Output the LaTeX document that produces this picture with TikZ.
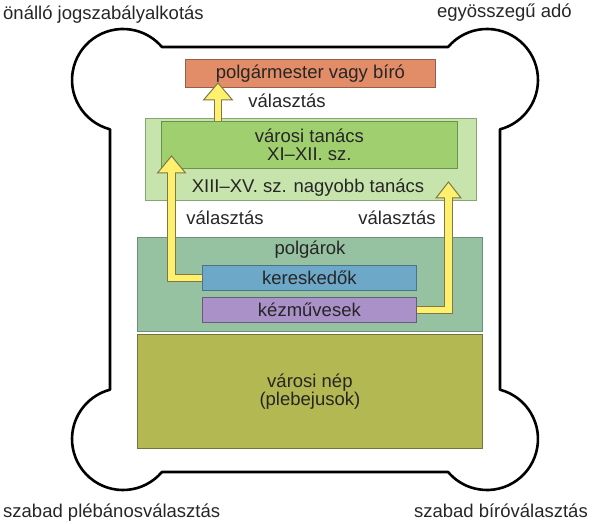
\documentclass[tikz,border=0pt]{standalone}
\usepackage{fontspec}
\setmainfont{Liberation Sans}
\definecolor{cOr}{RGB}{226,141,104}
\definecolor{cOrB}{RGB}{150,95,75}
\definecolor{cLg}{RGB}{199,228,172}
\definecolor{cLgB}{RGB}{135,165,115}
\definecolor{cGr}{RGB}{160,207,112}
\definecolor{cGrB}{RGB}{105,145,80}
\definecolor{cPo}{RGB}{150,194,162}
\definecolor{cPoB}{RGB}{105,145,120}
\definecolor{cKe}{RGB}{110,168,200}
\definecolor{cKeB}{RGB}{75,115,140}
\definecolor{cKz}{RGB}{170,145,200}
\definecolor{cKzB}{RGB}{105,90,130}
\definecolor{cOl}{RGB}{180,184,82}
\definecolor{cOlB}{RGB}{115,115,60}
\definecolor{cAr}{RGB}{255,240,110}
\definecolor{cArB}{RGB}{125,120,75}
\begin{document}
\begin{tikzpicture}[x=1pt,y=-1pt,
  lbl/.style={font=\fontsize{18.5}{18.5}\selectfont, text=black!85, inner sep=0pt, align=center},
  box/.style={line width=0.8pt, inner sep=0pt, anchor=north west, font=\fontsize{18.5}{18.5}\selectfont, text=black!85, align=center},
  aout/.style={draw=cArB, line width=8.5pt, line join=miter},
  ain/.style={draw=cAr, line width=6.5pt, line join=miter},
  ahead/.style={fill=cAr, draw=cArB, line width=1pt, line join=miter}]
\useasboundingbox (0,0) rectangle (592,524);
% outline
\draw[line width=2.6pt, line join=round]
  (110,129.3) arc[start angle=104.8, end angle=319.7, radius=51]
  -- (448.1,47) arc[start angle=220.3, end angle=435.2, radius=51]
  -- (500,389.7) arc[start angle=-75.2, end angle=139.7, radius=51]
  -- (161.9,472) arc[start angle=40.3, end angle=255.2, radius=51]
  -- cycle;
% corner labels
\node[lbl, anchor=base west] (c1) at (3,20) {önálló jogszabályalkotás};
\node[lbl, anchor=base east] (c2) at (572,18) {egyösszegű adó};
\node[lbl, anchor=base west] (c3) at (3,517) {szabad plébánosválasztás};
\node[lbl, anchor=base east] (c4) at (588,517) {szabad bíróválasztás};
% boxes
\node[box, fill=cOr, draw=cOrB, minimum width=250pt, minimum height=28pt] (mayor) at (185,59) {polgármester vagy bíró};
\node[box, fill=cLg, draw=cLgB, minimum width=331pt, minimum height=82pt] (nagy) at (145,118) {};
\node[box, fill=cGr, draw=cGrB, minimum width=296pt, minimum height=47pt] (tanacs) at (161,121) {városi tanács\\XI–XII. sz.};
\node[box, fill=cPo, draw=cPoB, minimum width=345pt, minimum height=94pt] (polgbox) at (137,237) {};
\node[box, fill=cKe, draw=cKeB, minimum width=214pt, minimum height=25pt] (kere) at (202,265) {kereskedők};
\node[box, fill=cKz, draw=cKzB, minimum width=214pt, minimum height=25pt] (kezm) at (202,297) {kézművesek};
\node[box, fill=cOl, draw=cOlB, minimum width=345pt, minimum height=114pt] (nep) at (137,334) {városi nép\\(plebejusok)};
% labels
\node[lbl] (v1) at (287,101) {választás};
\node[lbl] (xiii) at (308,188) {XIII–XV. sz. nagyobb tanács};
\node[lbl] (v2) at (225,218) {választás};
\node[lbl] (v3) at (397,218) {választás};
\node[lbl] (polg) at (310,250) {polgárok};
% arrows
\coordinate (t1) at (218,83); \coordinate (b1) at (218,100);
\draw[aout] (tanacs.north -| b1) -- (b1);
\filldraw[ahead] (t1) -- ([xshift=14.5pt]b1) -- ([xshift=-14.5pt]b1) -- cycle;
\draw[ain] (tanacs.north -| b1) -- ([yshift=1.5pt]b1);
\coordinate (t2) at (171.5,156); \coordinate (b2) at (171.5,173);
\draw[aout] (kere.west) -| (b2);
\filldraw[ahead] (t2) -- ([xshift=14pt]b2) -- ([xshift=-14pt]b2) -- cycle;
\draw[ain] (kere.west) -| ([yshift=1.5pt]b2);
\coordinate (t3) at (448.5,182); \coordinate (b3) at (448.5,198);
\draw[aout] (kezm.east) -| (b3);
\filldraw[ahead] (t3) -- ([xshift=12.5pt]b3) -- ([xshift=-12.5pt]b3) -- cycle;
\draw[ain] (kezm.east) -| ([yshift=1.5pt]b3);
\end{tikzpicture}
\end{document}
